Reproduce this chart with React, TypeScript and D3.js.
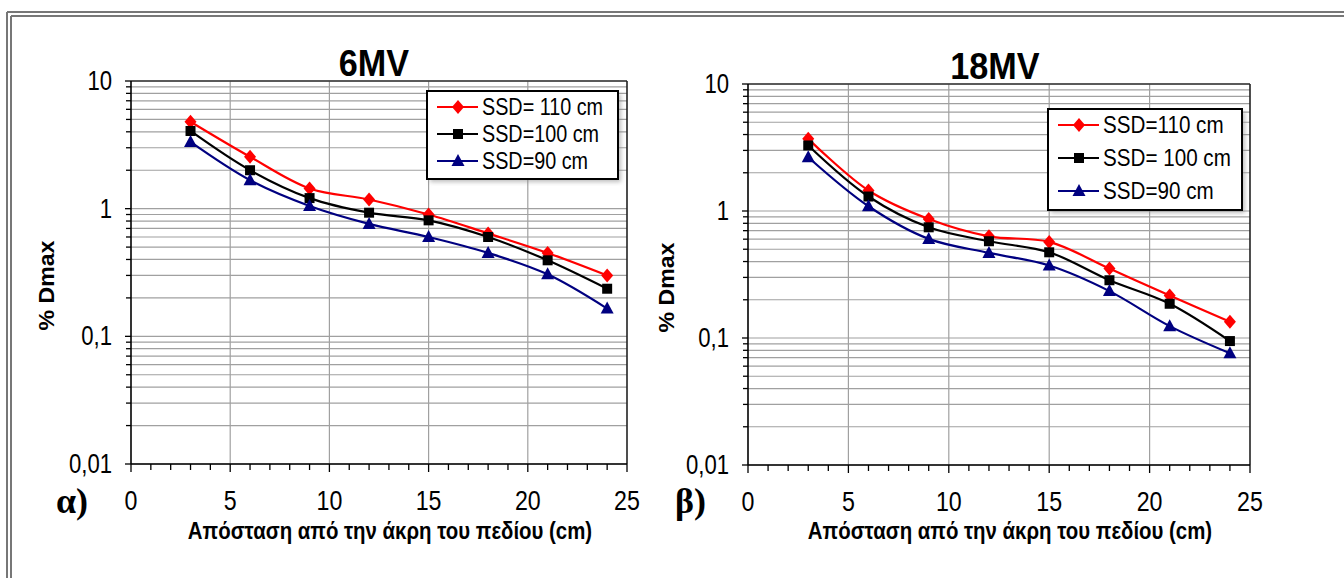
import React from "react";
import * as d3 from "d3";

// ---------- data ----------
const distances = [3, 6, 9, 12, 15, 18, 21, 24];

const mv6Ssd110 = [4.8, 2.55, 1.44, 1.18, 0.9, 0.64, 0.45, 0.3];
const mv6Ssd100 = [4.06, 2.0, 1.21, 0.93, 0.81, 0.6, 0.394, 0.236];
const mv6Ssd90 = [3.33, 1.67, 1.05, 0.76, 0.6, 0.45, 0.306, 0.165];

const mv18Ssd110 = [3.7, 1.45, 0.865, 0.632, 0.571, 0.352, 0.216, 0.134];
const mv18Ssd100 = [3.28, 1.3, 0.744, 0.578, 0.473, 0.285, 0.186, 0.0946];
const mv18Ssd90 = [2.65, 1.09, 0.603, 0.468, 0.372, 0.234, 0.124, 0.0758];

const legend6 = ["SSD= 110 cm", "SSD=100 cm", "SSD=90 cm"];
const legend18 = ["SSD=110 cm", "SSD= 100 cm", "SSD=90 cm"];

const yTickValues = [10, 1, 0.1, 0.01];
const yTickLabels = ["10", "1", "0,1", "0,01"];
const xTickValues = [0, 5, 10, 15, 20, 25];
const xTickLabels = ["0", "5", "10", "15", "20", "25"];

const xTitle = "Απόσταση από την άκρη του πεδίου (cm)";
const yTitle = "% Dmax";

const seriesColors = ["#ff0000", "#000000", "#000080"];
const seriesMarkers = ["diamond", "square", "triangle"];

// ---------- helpers ----------
const FONT = "'Liberation Sans', Arial, sans-serif";

function markerPath(kind: string): string {
  if (kind === "diamond") return "M0,-7L6,0L0,7L-6,0Z";
  if (kind === "square") return "M-5,-5L5,-5L5,5L-5,5Z";
  return "M0,-7L6.5,5L-6.5,5Z";
}

function T(props: any) {
  const { x, y, sx = 0.82, rotate = 0, children, ...rest } = props;
  return (
    <text
      transform={`translate(${x},${y}) rotate(${rotate}) scale(${sx},1)`}
      fontFamily={FONT}
      {...rest}
    >
      {children}
    </text>
  );
}

type PanelProps = {
  left: number;
  right: number;
  top: number;
  bottom: number;
  title: string;
  titleX: number;
  titleY: number;
  letter: string;
  letterX: number;
  yTitleX: number;
  series: number[][];
  labels: string[];
  legend: { x: number; y: number; w: number; h: number; rowGap: number; fontSize: number };
};

function Panel(p: PanelProps) {
  const x = d3.scaleLinear().domain([0, 25]).range([p.left, p.right]);
  const y = d3.scaleLog().domain([0.01, 10]).range([p.bottom, p.top]);

  const gridVals: number[] = [];
  [0.01, 0.1, 1].forEach((d) => {
    for (let k = 1; k <= 9; k++) gridVals.push(+(d * k).toPrecision(3));
  });
  gridVals.push(10);

  const minorX = d3.range(0, 26, 1);

  const line = d3
    .line<[number, number]>()
    .x((d) => x(d[0]))
    .y((d) => y(d[1]))
    .curve(d3.curveCatmullRom.alpha(0.5));

  const lg = p.legend;

  return (
    <g>
      {gridVals.map((v, i) => (
        <line
          key={"hg" + i}
          x1={p.left}
          x2={p.right}
          y1={y(v)}
          y2={y(v)}
          stroke="#a0a0a0"
          strokeWidth={1.2}
        />
      ))}
      {xTickValues.slice(1, -1).map((v, i) => (
        <line
          key={"vg" + i}
          x1={x(v)}
          x2={x(v)}
          y1={p.top}
          y2={p.bottom}
          stroke="#a0a0a0"
          strokeWidth={1.2}
        />
      ))}
      <line x1={p.left} x2={p.right} y1={p.top} y2={p.top} stroke="#333" strokeWidth={1.6} />
      <line x1={p.right} x2={p.right} y1={p.top} y2={p.bottom} stroke="#222" strokeWidth={1.6} />
      <line x1={p.left} x2={p.left} y1={p.top} y2={p.bottom} stroke="#000" strokeWidth={1.6} />
      <line x1={p.left} x2={p.right} y1={p.bottom} y2={p.bottom} stroke="#000" strokeWidth={1.6} />
      {gridVals.map((v, i) => (
        <line
          key={"yt" + i}
          x1={p.left - (yTickValues.includes(v) ? 6 : 5)}
          x2={p.left}
          y1={y(v)}
          y2={y(v)}
          stroke="#000"
          strokeWidth={1.3}
        />
      ))}
      {minorX.map((v) => (
        <line
          key={"xt" + v}
          x1={x(v)}
          x2={x(v)}
          y1={p.bottom}
          y2={p.bottom + (v % 5 === 0 ? 8 : 6)}
          stroke="#000"
          strokeWidth={1.3}
        />
      ))}
      {yTickValues.map((v, i) => (
        <T
          key={"yl" + i}
          x={p.left - 19}
          y={y(v) + 9}
          fontSize={27}
          sx={0.82}
          textAnchor="end"
          fill="#000"
        >
          {yTickLabels[i]}
        </T>
      ))}
      {xTickValues.map((v, i) => (
        <T
          key={"xl" + i}
          x={x(v)}
          y={p.bottom + 46}
          fontSize={27}
          sx={0.86}
          textAnchor="middle"
          fill="#000"
        >
          {xTickLabels[i]}
        </T>
      ))}
      {p.series.map((vals, si) => {
        const pts = distances.map((d, i) => [d, vals[i]] as [number, number]);
        return (
          <g key={"s" + si}>
            <path d={line(pts) || ""} fill="none" stroke={seriesColors[si]} strokeWidth={2.2} />
            {pts.map((pt, j) => (
              <path
                key={j}
                d={markerPath(seriesMarkers[si])}
                transform={`translate(${x(pt[0])},${y(pt[1])})`}
                fill={seriesColors[si]}
              />
            ))}
          </g>
        );
      })}
      <rect x={lg.x + 3} y={lg.y + 3} width={lg.w} height={lg.h} fill="#888" opacity={0.55} filter="url(#blur)" />
      <rect x={lg.x} y={lg.y} width={lg.w} height={lg.h} fill="#fff" stroke="#000" strokeWidth={2} />
      {p.labels.map((lab, i) => {
        const cy = lg.y + 16 + i * lg.rowGap;
        return (
          <g key={"lg" + i}>
            <line x1={lg.x + 10} x2={lg.x + 51} y1={cy} y2={cy} stroke={seriesColors[i]} strokeWidth={2.2} />
            <path
              d={markerPath(seriesMarkers[i])}
              transform={`translate(${lg.x + 31},${cy})`}
              fill={seriesColors[i]}
            />
            <T x={lg.x + 55} y={cy + 8} sx={0.86} fontSize={lg.fontSize} fill="#000">
              {lab}
            </T>
          </g>
        );
      })}
      <T x={p.titleX} y={p.titleY} sx={0.95} fontSize={36} fontWeight="bold" textAnchor="middle" fill="#000">
        {p.title}
      </T>
      <T
        x={(p.left + p.right) / 2 + 11}
        y={539}
        sx={0.85}
        fontSize={24}
        fontWeight="bold"
        textAnchor="middle"
        fill="#000"
      >
        {xTitle}
      </T>
      <T
        x={p.yTitleX}
        y={(p.top + p.bottom) / 2 + 13}
        rotate={-90}
        sx={1.05}
        fontSize={22}
        fontWeight="bold"
        textAnchor="middle"
        fill="#000"
      >
        {yTitle}
      </T>
      <text
        x={p.letterX}
        y={513}
        fontFamily="'Liberation Serif', 'Times New Roman', serif"
        fontWeight="bold"
        fontSize={36}
        fill="#000"
      >
        {p.letter}
      </text>
    </g>
  );
}

export default function App() {
  return (
    <svg
      width={1344}
      height={578}
      style={{ position: "absolute", left: 0, top: 0, background: "#fff" }}
    >
      <defs>
        <filter id="blur" x="-10%" y="-10%" width="120%" height="120%">
          <feGaussianBlur stdDeviation="2" />
        </filter>
      </defs>
      <rect x={0} y={0} width={1344} height={578} fill="#fff" />
      <line x1={7} x2={1344} y1={12} y2={12} stroke="#777" strokeWidth={2} />
      <line x1={11} x2={1344} y1={16} y2={16} stroke="#777" strokeWidth={2} />
      <line x1={7} x2={7} y1={12} y2={578} stroke="#777" strokeWidth={2} />
      <line x1={11} x2={11} y1={16} y2={578} stroke="#777" strokeWidth={2} />

      <Panel
        left={131}
        right={627}
        top={81}
        bottom={464}
        title="6MV"
        titleX={374}
        titleY={76}
        letter="α)"
        letterX={56}
        yTitleX={54}
        series={[mv6Ssd110, mv6Ssd100, mv6Ssd90]}
        labels={legend6}
        legend={{ x: 427, y: 91, w: 191, h: 88, rowGap: 27, fontSize: 23 }}
      />
      <Panel
        left={748}
        right={1250}
        top={84}
        bottom={465}
        title="18MV"
        titleX={995}
        titleY={79}
        letter="β)"
        letterX={675}
        yTitleX={674}
        series={[mv18Ssd110, mv18Ssd100, mv18Ssd90]}
        labels={legend18}
        legend={{ x: 1048, y: 109, w: 194, h: 101, rowGap: 33, fontSize: 24 }}
      />
    </svg>
  );
}
